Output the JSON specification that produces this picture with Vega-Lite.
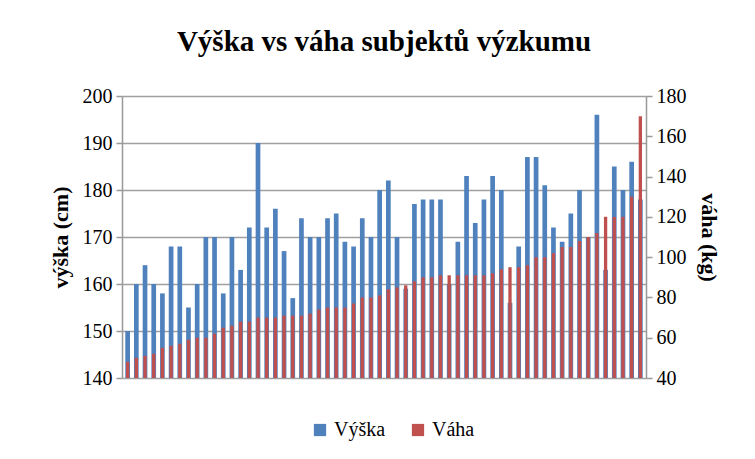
{
  "$schema": "https://vega.github.io/schema/vega-lite/v6.json",
  "autosize": "none",
  "width": 524,
  "height": 282,
  "padding": {"left": 122, "top": 96, "right": 109, "bottom": 81},
  "background": "white",
  "title": {
    "text": "Výška vs váha subjektů výzkumu",
    "font": "Liberation Serif",
    "fontSize": 29,
    "fontWeight": "bold",
    "color": "black",
    "anchor": "middle",
    "offset": 29
  },
  "config": {
    "view": {"stroke": null},
    "axis": {
      "labelFont": "'Liberation Serif', 'Times New Roman', serif",
      "labelFontSize": 20,
      "labelColor": "black",
      "titleFont": "Liberation Serif",
      "titleFontSize": 22,
      "titleFontWeight": "bold",
      "titleColor": "black",
      "domainColor": "#999999",
      "domainWidth": 1.5,
      "tickColor": "#999999",
      "tickWidth": 1.5,
      "tickSize": 6,
      "gridColor": "#a0a0a0",
      "gridWidth": 1.5
    },
    "legend": {
      "labelFont": "'Liberation Serif', 'Times New Roman', serif",
      "labelFontSize": 20,
      "labelColor": "black"
    }
  },
  "data": {
    "values": [
      {"i": 1, "vyska": 150, "vaha": 48},
      {"i": 2, "vyska": 160, "vaha": 50},
      {"i": 3, "vyska": 164, "vaha": 51},
      {"i": 4, "vyska": 160, "vaha": 52},
      {"i": 5, "vyska": 158, "vaha": 55},
      {"i": 6, "vyska": 168, "vaha": 56},
      {"i": 7, "vyska": 168, "vaha": 57},
      {"i": 8, "vyska": 155, "vaha": 59},
      {"i": 9, "vyska": 160, "vaha": 60},
      {"i": 10, "vyska": 170, "vaha": 60},
      {"i": 11, "vyska": 170, "vaha": 62},
      {"i": 12, "vyska": 158, "vaha": 65},
      {"i": 13, "vyska": 170, "vaha": 66},
      {"i": 14, "vyska": 163, "vaha": 68},
      {"i": 15, "vyska": 172, "vaha": 68},
      {"i": 16, "vyska": 190, "vaha": 70},
      {"i": 17, "vyska": 172, "vaha": 70},
      {"i": 18, "vyska": 176, "vaha": 70},
      {"i": 19, "vyska": 167, "vaha": 71},
      {"i": 20, "vyska": 157, "vaha": 71},
      {"i": 21, "vyska": 174, "vaha": 71},
      {"i": 22, "vyska": 170, "vaha": 72},
      {"i": 23, "vyska": 170, "vaha": 74},
      {"i": 24, "vyska": 174, "vaha": 75},
      {"i": 25, "vyska": 175, "vaha": 75},
      {"i": 26, "vyska": 169, "vaha": 75},
      {"i": 27, "vyska": 168, "vaha": 77},
      {"i": 28, "vyska": 174, "vaha": 80},
      {"i": 29, "vyska": 170, "vaha": 80},
      {"i": 30, "vyska": 180, "vaha": 81},
      {"i": 31, "vyska": 182, "vaha": 84},
      {"i": 32, "vyska": 170, "vaha": 85},
      {"i": 33, "vyska": 159, "vaha": 86},
      {"i": 34, "vyska": 177, "vaha": 88},
      {"i": 35, "vyska": 178, "vaha": 90},
      {"i": 36, "vyska": 178, "vaha": 90},
      {"i": 37, "vyska": 178, "vaha": 91},
      {"i": 38, "vyska": 160, "vaha": 91},
      {"i": 39, "vyska": 169, "vaha": 91},
      {"i": 40, "vyska": 183, "vaha": 91},
      {"i": 41, "vyska": 173, "vaha": 91},
      {"i": 42, "vyska": 178, "vaha": 91},
      {"i": 43, "vyska": 183, "vaha": 92},
      {"i": 44, "vyska": 180, "vaha": 94},
      {"i": 45, "vyska": 156, "vaha": 95},
      {"i": 46, "vyska": 168, "vaha": 95},
      {"i": 47, "vyska": 187, "vaha": 96},
      {"i": 48, "vyska": 187, "vaha": 100},
      {"i": 49, "vyska": 181, "vaha": 100},
      {"i": 50, "vyska": 172, "vaha": 102},
      {"i": 51, "vyska": 169, "vaha": 105},
      {"i": 52, "vyska": 175, "vaha": 105},
      {"i": 53, "vyska": 180, "vaha": 108},
      {"i": 54, "vyska": 170, "vaha": 110},
      {"i": 55, "vyska": 196, "vaha": 112},
      {"i": 56, "vyska": 163, "vaha": 120},
      {"i": 57, "vyska": 185, "vaha": 120},
      {"i": 58, "vyska": 180, "vaha": 120},
      {"i": 59, "vyska": 186, "vaha": 130},
      {"i": 60, "vyska": 178, "vaha": 170}
    ]
  },
  "layer": [
    {
      "mark": {"type": "bar", "width": {"band": 0.54}},
      "encoding": {
        "x": {
          "field": "i",
          "type": "ordinal",
          "scale": {"paddingInner": 0, "paddingOuter": 0.15},
          "axis": null
        },
        "y": {
          "field": "vyska",
          "type": "quantitative",
          "scale": {"domain": [140, 200], "zero": false, "nice": false},
          "axis": {
            "orient": "left",
            "values": [140, 150, 160, 170, 180, 190, 200],
            "title": "výška (cm)",
            "titlePadding": 10,
            "labelPadding": 4,
            "grid": true
          }
        },
        "y2": {"datum": 140},
        "color": {
          "datum": "Výška",
          "type": "nominal",
          "scale": {"domain": ["Výška", "Váha"], "range": ["#4f81bd", "#c0504d"]},
          "legend": {
            "title": null,
            "orient": "none",
            "direction": "horizontal",
            "legendX": 188,
            "legendY": 324,
            "symbolType": "square",
            "symbolSize": 150,
            "symbolStrokeWidth": 0,
            "columnPadding": 22,
            "labelOffset": 4
          }
        }
      }
    },
    {
      "mark": {"type": "bar", "width": {"band": 0.38}},
      "encoding": {
        "x": {"field": "i", "type": "ordinal", "axis": null},
        "y": {
          "field": "vaha",
          "type": "quantitative",
          "scale": {"domain": [40, 180], "zero": false, "nice": false},
          "axis": {
            "orient": "right",
            "values": [40, 60, 80, 100, 120, 140, 160, 180],
            "title": "váha (kg)",
            "titlePadding": 10,
            "labelPadding": 4,
            "grid": false
          }
        },
        "y2": {"datum": 40},
        "color": {"datum": "Váha", "type": "nominal"}
      }
    }
  ],
  "resolve": {"scale": {"y": "independent"}}
}
